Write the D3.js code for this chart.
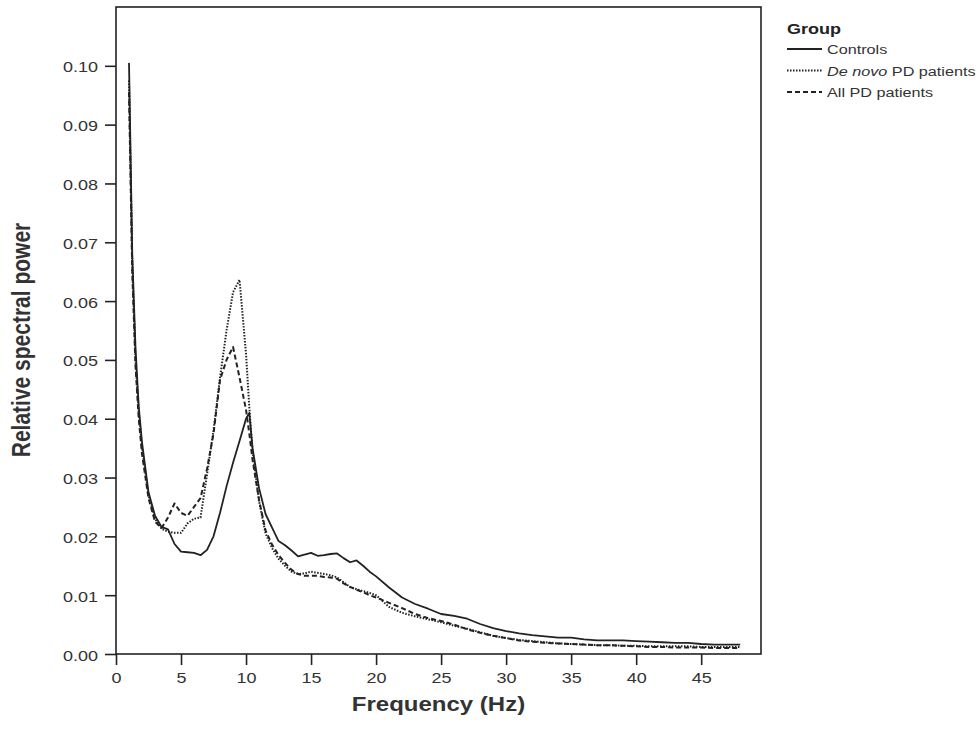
<!DOCTYPE html>
<html>
<head>
<meta charset="utf-8">
<script src="https://cdn.jsdelivr.net/npm/d3@7"></script>
<style>
  body { margin: 0; background: #fff; }
  svg { font-family: "Liberation Sans", Arial, sans-serif; }
</style>
</head>
<body>
<div id="chart"></div>
<script>
var width = 980, height = 742;

// frequency bins (Hz)
var freq = [1, 1.25, 1.5, 1.75, 2, 2.5, 3, 3.5, 4, 4.5, 5, 5.5, 6, 6.5, 7, 7.5, 8, 8.5, 9, 9.5, 10, 10.25,
  10.5, 11, 11.5, 12, 12.5, 13, 13.5, 14, 14.5, 15, 15.5, 16, 16.5, 17, 17.5, 18, 18.5, 19, 19.5, 20,
  21, 22, 23, 24, 25, 26, 27, 28, 29, 30, 31, 32, 33, 34, 35, 36, 37, 38, 39, 40, 41, 42, 43, 44, 45, 46, 47, 48];

var controls = [0.1005, 0.068, 0.052, 0.042, 0.036, 0.0275, 0.0235, 0.0216, 0.0212, 0.0187, 0.0174, 0.0173, 0.0172, 0.0168, 0.0177, 0.0200, 0.0240, 0.0285, 0.0325, 0.0362, 0.0400, 0.0410,
  0.0350, 0.0282, 0.0238, 0.0215, 0.0192, 0.0185, 0.0176, 0.0166, 0.0169, 0.0172, 0.0167, 0.0168, 0.0170, 0.0171, 0.0163, 0.0156, 0.0159, 0.0150, 0.0140, 0.0132,
  0.0113, 0.0096, 0.0085, 0.0077, 0.0068, 0.0065, 0.0060, 0.0051, 0.0044, 0.0039, 0.0035, 0.0032, 0.0030, 0.0028, 0.0028, 0.0025, 0.0023, 0.0023, 0.0023, 0.0022, 0.0021, 0.0020, 0.0019, 0.0019, 0.0017, 0.0016, 0.0016, 0.0016];

var deNovo = [0.0975, 0.066, 0.050, 0.041, 0.035, 0.027, 0.023, 0.0213, 0.0208, 0.0206, 0.0206, 0.0222, 0.0230, 0.0232, 0.0305, 0.0380, 0.0470, 0.0550, 0.0615, 0.0636, 0.0510, 0.0420,
  0.0345, 0.0260, 0.0205, 0.0180, 0.0162, 0.0150, 0.0140, 0.0136, 0.0137, 0.0140, 0.0138, 0.0136, 0.0134, 0.0130, 0.0122, 0.0114, 0.0110, 0.0107, 0.0104, 0.0100,
  0.0080, 0.0070, 0.0064, 0.0059, 0.0054, 0.0048, 0.0043, 0.0037, 0.0031, 0.0027, 0.0024, 0.0022, 0.0020, 0.0018, 0.0017, 0.0016, 0.0015, 0.0015, 0.0014, 0.0014, 0.0013, 0.0013, 0.0013, 0.0013, 0.0012, 0.0012, 0.0012, 0.0012];

var allPD = [0.0955, 0.065, 0.049, 0.040, 0.034, 0.0265, 0.0225, 0.0214, 0.0232, 0.0256, 0.0240, 0.0235, 0.0250, 0.0265, 0.0315, 0.0375, 0.0466, 0.0500, 0.0522, 0.0470, 0.0415, 0.0375,
  0.0330, 0.0262, 0.0210, 0.0186, 0.0168, 0.0155, 0.0143, 0.0136, 0.0133, 0.0133, 0.0133, 0.0131, 0.0130, 0.0128, 0.0120, 0.0114, 0.0109, 0.0105, 0.0100, 0.0096,
  0.0087, 0.0078, 0.0068, 0.0061, 0.0056, 0.0050, 0.0042, 0.0036, 0.0031, 0.0027, 0.0023, 0.0021, 0.0019, 0.0018, 0.0017, 0.0016, 0.0015, 0.0015, 0.0014, 0.0013, 0.0012, 0.0012, 0.0011, 0.0011, 0.0011, 0.0010, 0.0010, 0.0010];

var xTicks = [0, 5, 10, 15, 20, 25, 30, 35, 40, 45];
var yTicks = [0, 0.01, 0.02, 0.03, 0.04, 0.05, 0.06, 0.07, 0.08, 0.09, 0.10];

var groups = ["Controls", "De novo PD patients", "All PD patients"];
var dashes = [null, "1.5 1.5", "5 3"];
var widths = [1.8, 2, 2];
var series = [controls, deNovo, allPD];

var stretch = 1.2; // the original figure is a bit wider than tall in its text
var ink = "#222", textInk = "#333";

var svg = d3.select("#chart").append("svg")
  .attr("width", width).attr("height", height);

var plot = {left: 116, right: 761, top: 7, bottom: 654};

var x = d3.scaleLinear().domain([0, 49.6]).range([plot.left, plot.right]);
var y = d3.scaleLinear().domain([0, 0.11]).range([plot.bottom, plot.top]);

// frame
svg.append("rect")
  .attr("x", plot.left).attr("y", plot.top)
  .attr("width", plot.right - plot.left).attr("height", plot.bottom - plot.top)
  .attr("fill", "none").attr("stroke", ink).attr("stroke-width", 1.6);

// axes
var yAxis = svg.append("g")
  .attr("transform", "translate(" + plot.left + ",0)")
  .call(d3.axisLeft(y).tickValues(yTicks).tickSize(11).tickFormat(d3.format(".2f")));
yAxis.select(".domain").remove();
yAxis.selectAll("line").attr("stroke", ink).attr("stroke-width", 1.6);
yAxis.selectAll("text")
  .attr("x", null).attr("dy", null)
  .attr("transform", "translate(-18,6) scale(" + stretch + ",1)")
  .attr("fill", textInk).style("font-size", "15px");

var xAxis = svg.append("g")
  .attr("transform", "translate(0," + plot.bottom + ")")
  .call(d3.axisBottom(x).tickValues(xTicks).tickSize(11).tickFormat(d3.format("d")));
xAxis.select(".domain").remove();
xAxis.selectAll("line").attr("stroke", ink).attr("stroke-width", 1.6);
xAxis.selectAll("text")
  .attr("y", null).attr("dy", null)
  .attr("transform", "translate(0,29) scale(" + stretch + ",1)")
  .attr("fill", textInk).style("font-size", "15px");

// axis titles
svg.append("text")
  .attr("transform", "translate(" + (plot.left + plot.right) / 2 + ",711) scale(" + stretch + ",1)")
  .attr("text-anchor", "middle")
  .style("font-size", "20px").style("font-weight", "bold").attr("fill", textInk)
  .text("Frequency (Hz)");

svg.append("text")
  .attr("transform", "translate(30,340) scale(" + stretch + ",1) rotate(-90)")
  .attr("text-anchor", "middle")
  .style("font-size", "21px").style("font-weight", "bold").attr("fill", textInk)
  .text("Relative spectral power");

// lines
var line = d3.line()
  .x(function(d, i) { return x(freq[i]); })
  .y(function(d) { return y(d); });

svg.selectAll("path.series")
  .data(series)
  .enter()
  .append("path")
  .attr("class", "series")
  .attr("d", line)
  .attr("fill", "none")
  .attr("stroke", ink)
  .attr("stroke-width", function(d, i) { return widths[i]; })
  .attr("stroke-dasharray", function(d, i) { return dashes[i]; })
  .attr("stroke-linejoin", "round");

// legend
var legend = svg.append("g").attr("transform", "translate(787,0)");
legend.append("text")
  .attr("transform", "translate(0,34) scale(" + stretch + ",1)")
  .style("font-size", "15px").style("font-weight", "bold").attr("fill", ink)
  .text("Group");

var rows = legend.selectAll("g.row")
  .data(groups)
  .enter()
  .append("g")
  .attr("class", "row")
  .attr("transform", function(d, i) { return "translate(0," + (49 + i * 21.5) + ")"; });

rows.append("line")
  .attr("x1", 0).attr("x2", 35)
  .attr("stroke", ink)
  .attr("stroke-width", function(d, i) { return widths[i]; })
  .attr("stroke-dasharray", function(d, i) { return dashes[i]; });

rows.append("text")
  .attr("transform", "translate(40,5) scale(" + stretch + ",1)")
  .style("font-size", "13.5px").attr("fill", textInk)
  .each(function(d) {
    var t = d3.select(this);
    if (d.indexOf("De novo") === 0) {
      t.append("tspan").style("font-style", "italic").text("De novo");
      t.append("tspan").text(d.slice(7));
    } else {
      t.text(d);
    }
  });
</script>
</body>
</html>
